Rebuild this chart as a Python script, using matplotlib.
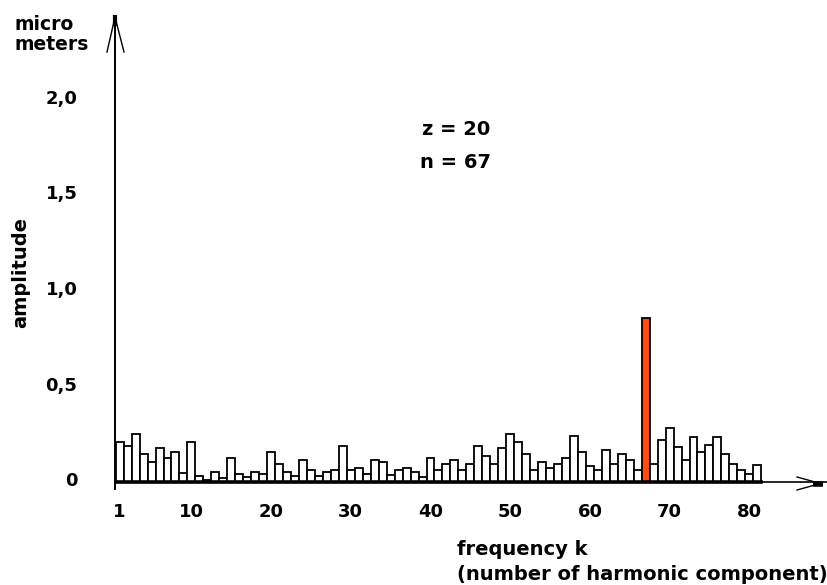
import matplotlib
matplotlib.use("Agg")
import matplotlib.pyplot as plt
import matplotlib.transforms as mtransforms
import numpy as np

# harmonic number k and amplitude (micro meters)
k = np.arange(1, 82)
amplitude = [0.209, 0.187, 0.253, 0.147, 0.105, 0.176, 0.124, 0.157, 0.047, 0.209,
             0.030, 0.012, 0.052, 0.019, 0.124, 0.040, 0.028, 0.052, 0.040, 0.157,
             0.094, 0.052, 0.030, 0.114, 0.061, 0.030, 0.052, 0.061, 0.188, 0.061,
             0.072, 0.040, 0.114, 0.103, 0.037, 0.061, 0.072, 0.052, 0.028, 0.124,
             0.061, 0.094, 0.114, 0.061, 0.094, 0.187, 0.135, 0.094, 0.176, 0.251,
             0.209, 0.145, 0.061, 0.103, 0.072, 0.093, 0.124, 0.239, 0.157, 0.082,
             0.061, 0.166, 0.093, 0.145, 0.114, 0.061, 0.861, 0.096, 0.222, 0.285,
             0.182, 0.117, 0.234, 0.159, 0.192, 0.234, 0.149, 0.096, 0.065, 0.042,
             0.087]
highlight = 67  # n = 67

xticks = [1, 10, 20, 30, 40, 50, 60, 70, 80]
yticks = [0, 0.5, 1.0, 1.5, 2.0]
ytick_labels = ["0", "0,5", "1,0", "1,5", "2,0"]

W, H = 828, 585
# pixel layout of the original drawing
x0_px, pitch_px = 111.7, 7.97      # bar centre of k is x0 + pitch*k
base_px, unit_px = 482, 191        # baseline and pixels per micro meter
left_px, top_px = 115, 17

plt.rcParams['font.family'] = ['DejaVu Sans']
plt.rcParams['font.weight'] = 'bold'

fig = plt.figure(figsize=(W / 100, H / 100), dpi=100)
ax = fig.add_axes([left_px / W, (H - base_px) / H, (W - left_px) / W, (base_px - top_px) / H])
ax.set_xlim((left_px - x0_px) / pitch_px, (W - x0_px) / pitch_px)
ax.set_ylim(0, (base_px - top_px) / unit_px)

colors = ['#ff4a12' if kk == highlight else 'white' for kk in k]
ax.bar(k, amplitude, width=1.0, color=colors, edgecolor='black', linewidth=1.3, zorder=2)
ax.plot([k[0] - 0.5, k[-1] + 0.5], [0, 0], color='black', lw=2.6, zorder=3, clip_on=False)

for s in ['top', 'right']:
    ax.spines[s].set_visible(False)
ax.spines['left'].set_linewidth(1.4)
ax.spines['bottom'].set_linewidth(1.2)
ax.patch.set_alpha(0)

ax.set_xticks(xticks)
ax.set_xticklabels([str(t) for t in xticks], fontsize=13, fontweight='bold')
ax.set_yticks(yticks)
ax.set_yticklabels(ytick_labels, fontsize=13, fontweight='bold')
ax.tick_params(axis='x', length=0, pad=15)
ax.tick_params(axis='y', length=0, pad=27)
shift = mtransforms.ScaledTranslation(0, 3 / 100, fig.dpi_scale_trans)
for lab in ax.get_yticklabels():
    lab.set_transform(lab.get_transform() + shift)

# overlay in pixel coordinates for arrows and labels
deco = fig.add_axes([0, 0, 1, 1])
deco.set_xlim(0, W)
deco.set_ylim(H, 0)
deco.axis('off')

# y axis arrow
deco.plot([left_px, left_px], [base_px, 489], color='black', lw=1.4)
deco.plot([107, left_px, 124], [52, top_px, 52], color='black', lw=1.0)
deco.plot([left_px, left_px], [top_px, 24], color='black', lw=3)
# x axis arrow
deco.plot([797, 815], [477, 482], color='black', lw=1.0)
deco.plot([797, 815], [490, 485], color='black', lw=1.0)
deco.plot([813, 823], [483.5, 483.5], color='black', lw=4, solid_capstyle='butt')

deco.text(15, 15, "micro\nmeters", fontsize=13.5, fontweight='bold', ha='left', va='top',
          linespacing=1.05)
deco.text(21, 273, "amplitude", fontsize=14, fontweight='bold', rotation=90,
          ha='center', va='center')
deco.text(422, 135, "z = 20", fontsize=14, fontweight='bold', ha='left', va='baseline')
deco.text(420, 168, "n = 67", fontsize=14, fontweight='bold', ha='left', va='baseline')
deco.text(457, 555, "frequency k", fontsize=14, fontweight='bold', ha='left', va='baseline')
deco.text(457, 580, "(number of harmonic component)", fontsize=14, fontweight='bold',
          ha='left', va='baseline')

fig.savefig("out.png", dpi=100)
